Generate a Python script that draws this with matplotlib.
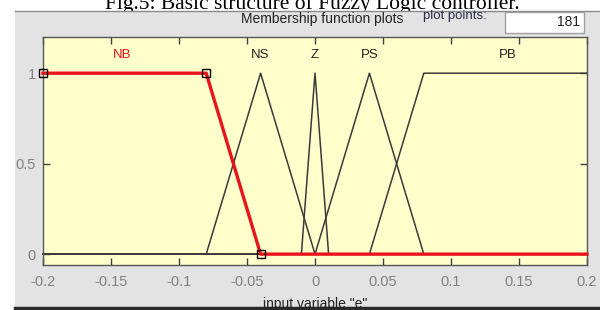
import matplotlib
matplotlib.use("Agg")
import matplotlib.pyplot as plt
from matplotlib.patches import Rectangle

W, H = 600, 310

# ---- data: membership function vertices ----
nb_x = [-0.2, -0.08, -0.04, 0.2]
nb_y = [1, 1, 0, 0]
ns_x = [-0.2, -0.08, -0.04, 0.0, 0.2]
ns_y = [0, 0, 1, 0, 0]
z_x = [-0.2, -0.01, 0.0, 0.01, 0.2]
z_y = [0, 0, 1, 0, 0]
ps_x = [-0.2, 0.0, 0.04, 0.08, 0.2]
ps_y = [0, 0, 1, 0, 0]
pb_x = [-0.2, 0.04, 0.08, 0.2]
pb_y = [0, 0, 1, 1]
nb_marker_x = [-0.2, -0.08, -0.04]
nb_marker_y = [1, 1, 0]

mf_names = ["NB", "NS", "Z", "PS", "PB"]
mf_label_x = [-0.1417, -0.04, 0.0, 0.04, 0.1417]
mf_label_y = 1.1

xticks = [-0.2, -0.15, -0.1, -0.05, 0, 0.05, 0.1, 0.15, 0.2]
xticklabels = ["-0.2", "-0.15", "-0.1", "-0.05", "0", "0.05", "0.1", "0.15", "0.2"]
yticks = [0, 0.5, 1]
yticklabels = ["0", "0.5", "1"]
plot_points = "181"

plt.rcParams['font.family'] = ['Liberation Sans', 'DejaVu Sans']

fig = plt.figure(figsize=(W / 100, H / 100), dpi=100)
fig.patch.set_facecolor("white")

def fx(px):
    return px / W

def fy(py):
    return 1 - py / H

# grey panel
fig.patches.append(Rectangle((fx(15), fy(308)), fx(600) - fx(15), fy(11) - fy(308),
                             transform=fig.transFigure, facecolor="#e3e3e3",
                             edgecolor="none", zorder=-5))
# panel top border
fig.add_artist(plt.Line2D([fx(15), fx(600)], [fy(11), fy(11)], transform=fig.transFigure,
                          color="#8a8a8a", lw=1, zorder=-4))
# bottom dark line
fig.add_artist(plt.Line2D([fx(15), fx(600)], [fy(307.5), fy(307.5)], transform=fig.transFigure,
                          color="#2a2a2a", lw=2.5, zorder=-4))

# caption (clipped at top, partly hidden by the panel)
fig.text(fx(312), fy(9.5), "Fig.5: Basic structure of Fuzzy Logic controller.",
         family="Liberation Serif", fontsize=15.5, ha="center", va="baseline", color="black",
         zorder=-6)

# header texts
fig.text(fx(403), fy(19), "Membership function plots", fontsize=10, ha="right",
         va="center", color="#222222")
fig.text(fx(423), fy(16.5), "plot points:", fontsize=9.5, ha="left", va="center",
         color="#2a2a48")
fig.patches.append(Rectangle((fx(505), fy(33)), fx(584) - fx(505), fy(12) - fy(33),
                             transform=fig.transFigure, facecolor="white",
                             edgecolor="#a0a0a0", lw=1, zorder=-3))
fig.text(fx(580), fy(21.5), plot_points, fontsize=10, ha="right", va="center", color="#222222")

# axes
ax = fig.add_axes([fx(43), fy(265), fx(587) - fx(43), fy(37) - fy(265)])
ax.set_zorder(2)
ax.set_facecolor("#ffffcc")
ax.set_xlim(-0.2, 0.2)
ax.set_ylim(-0.06, 1.2)

line_color = "#3a3a3a"
for xs, ys in [(ns_x, ns_y), (z_x, z_y), (ps_x, ps_y), (pb_x, pb_y)]:
    ax.plot(xs, ys, color=line_color, lw=1.1, clip_on=False)
ax.plot(nb_x, nb_y, color="#e8141c", lw=2.4, clip_on=False, zorder=3)
ax.plot(nb_marker_x, nb_marker_y, ls="none", marker="s", ms=5.5, mfc="none",
        mec="black", mew=1, clip_on=False, zorder=4)

for name, lx in zip(mf_names, mf_label_x):
    ax.text(lx, mf_label_y, name, ha="center", va="center", fontsize=9.5,
            color="#e8141c" if name == "NB" else "#222222")

ax.set_xticks(xticks)
ax.set_xticklabels(xticklabels)
ax.set_yticks(yticks)
ax.set_yticklabels(yticklabels)
ax.tick_params(direction="in", length=5, width=1, colors="#404040",
               labelcolor="#808080", labelsize=10.5, top=True, right=True)
ax.tick_params(axis="x", pad=7)
ax.tick_params(axis="y", pad=5)
for s in ax.spines.values():
    s.set_color("#555555")
    s.set_linewidth(1)

ax.set_xlabel('input variable "e"', fontsize=10, color="#222222")
ax.xaxis.set_label_coords(0.5, -0.14)

fig.savefig("out.png", dpi=100, facecolor=fig.get_facecolor())
